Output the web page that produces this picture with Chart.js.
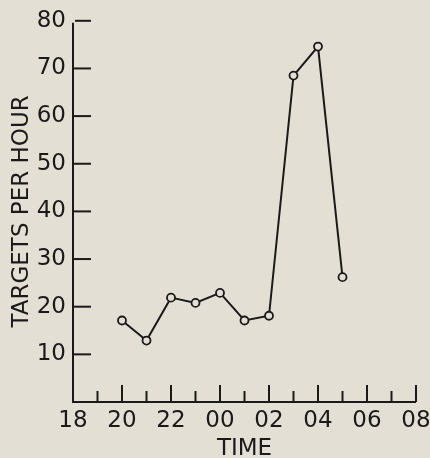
<!DOCTYPE html>
<html>
<head>
<meta charset="utf-8">
<script src="https://cdn.jsdelivr.net/npm/chart.js@4"></script>
<style>
  html, body { margin: 0; padding: 0; background: #e4dfd5; }
  #wrap { width: 430px; height: 458px; }
</style>
</head>
<body>
<div id="wrap"><canvas id="myChart"></canvas></div>
<script>
// hours after 18:00 counted past midnight (24 = 00, 25 = 01 ...)
var hours = [20, 21, 22, 23, 24, 25, 26, 27, 28, 29];
var targets = [17.1, 12.9, 21.9, 20.8, 22.9, 17.1, 18.1, 68.5, 74.6, 26.2];
var yTicks = [10, 20, 30, 40, 50, 60, 70, 80];
var xTickLabels = ['18', '20', '22', '00', '02', '04', '06', '08'];

var bg = '#e4dfd5';
var ink = '#1a1a1a';
var font = "'DejaVu Sans', sans-serif";

// ticks point inward, long ones at even hours
var innerTicks = {
    id: 'innerTicks',
    afterDraw: function (chart) {
        var c = chart.ctx;
        var xs = chart.scales.x, ys = chart.scales.y;
        var x0 = xs.getPixelForValue(18), y0 = ys.getPixelForValue(0);
        c.save();
        c.strokeStyle = ink;
        c.lineWidth = 2;
        c.beginPath();
        c.moveTo(x0, ys.getPixelForValue(80) + 2);
        c.lineTo(x0, y0);
        c.lineTo(xs.getPixelForValue(32), y0);
        c.stroke();
        for (var h = 19; h <= 32; h++) {
            var px = xs.getPixelForValue(h);
            var len = (h % 2 === 0) ? 17 : 11;
            c.beginPath();
            c.moveTo(px, y0);
            c.lineTo(px, y0 - len);
            c.stroke();
        }
        yTicks.forEach(function (v) {
            var py = ys.getPixelForValue(v);
            c.beginPath();
            c.moveTo(x0 + (v === 80 ? 2 : 0), py);
            c.lineTo(x0 + 18, py);
            c.stroke();
        });
        c.restore();
    }
};

var ctx = document.getElementById('myChart').getContext('2d');
var myChart = new Chart(ctx, {
    type: 'line',
    data: {
        datasets: [{
            data: hours.map(function (h, i) { return { x: h, y: targets[i] }; }),
            borderColor: ink,
            borderWidth: 2,
            pointRadius: 4,
            pointBorderWidth: 1.8,
            pointBackgroundColor: bg,
            pointBorderColor: ink,
            tension: 0,
            fill: false
        }]
    },
    plugins: [innerTicks],
    options: {
        responsive: true,
        maintainAspectRatio: false,
        animation: false,
        layout: { padding: { top: 18, right: 14, left: 0, bottom: 0 } },
        plugins: { legend: { display: false }, tooltip: { enabled: false } },
        scales: {
            x: {
                type: 'linear',
                min: 18,
                max: 32,
                border: { display: false },
                grid: { display: false, drawTicks: false },
                afterBuildTicks: function (scale) {
                    scale.ticks = xTickLabels.map(function (t, i) { return { value: 18 + i * 2 }; });
                },
                afterFit: function (scale) {
                    scale.height = 56;
                    scale.paddingRight = 0;
                    scale.paddingLeft = 0;
                },
                ticks: {
                    autoSkip: false,
                    maxRotation: 0,
                    padding: 8,
                    color: ink,
                    font: { family: font, size: 23, lineHeight: 1 },
                    callback: function (v) { return xTickLabels[(v - 18) / 2]; }
                },
                title: {
                    display: true,
                    text: 'TIME',
                    color: ink,
                    padding: { top: 0, bottom: -3 },
                    font: { family: font, size: 23, lineHeight: 1 }
                }
            },
            y: {
                min: 0,
                max: 80,
                border: { display: false },
                grid: { display: false, drawTicks: false },
                afterBuildTicks: function (scale) {
                    scale.ticks = yTicks.map(function (v) { return { value: v }; });
                },
                afterFit: function (scale) { scale.width = 73; },
                ticks: {
                    padding: 7,
                    color: ink,
                    font: { family: font, size: 23 }
                },
                title: {
                    display: true,
                    text: 'TARGETS PER HOUR',
                    color: ink,
                    padding: { top: 11, bottom: 0 },
                    font: { family: font, size: 23, lineHeight: 1 }
                }
            }
        }
    }
});
</script>
</body>
</html>
